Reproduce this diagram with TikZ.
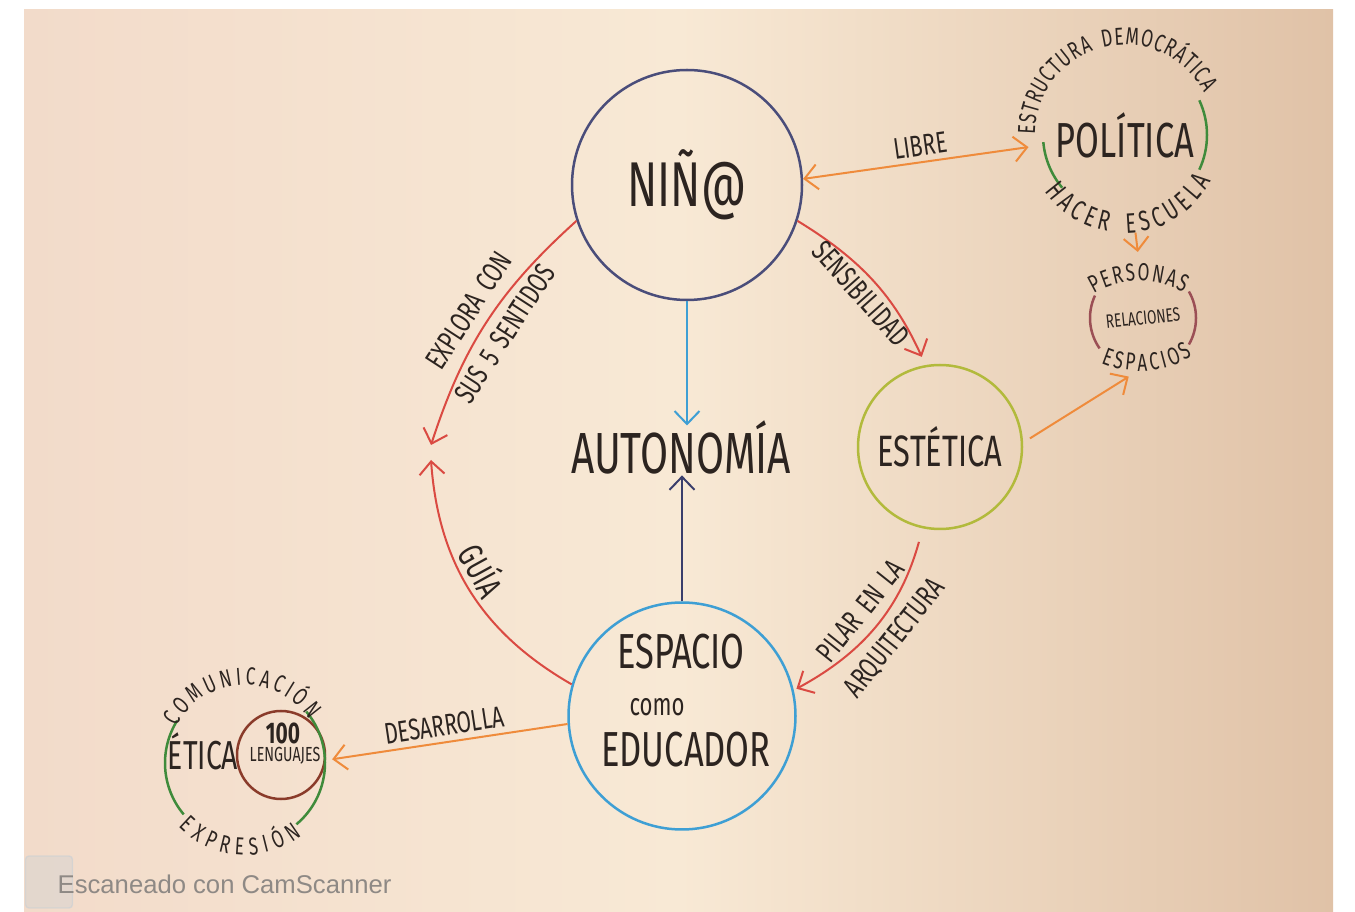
\documentclass[tikz,border=0pt]{standalone}
\usepackage{fontspec}
\setmainfont{Fira Sans}
\newfontfamily\hand[FakeStretch=0.7, WordSpace=1.7]{Fira Sans}
\newfontfamily\scanfont{Liberation Sans}
\usetikzlibrary{arrows.meta,
				calc,
				positioning,
				decorations.text}

\definecolor{paperL}{HTML}{F2DBCA}
\definecolor{paperM}{HTML}{F8E9D5}
\definecolor{paperR}{HTML}{E0C2A7}
\definecolor{ink}{HTML}{2C2420}
\definecolor{ninoC}{HTML}{4A4D7A}
\definecolor{redC}{HTML}{DA4A42}
\definecolor{orangeC}{HTML}{EF8B3B}
\definecolor{skyC}{HTML}{3E9FD4}
\definecolor{navyC}{HTML}{3A3E6C}
\definecolor{oliveC}{HTML}{B2BA3C}
\definecolor{greenC}{HTML}{3F8B3B}
\definecolor{plumC}{HTML}{9B4F55}
\definecolor{brownC}{HTML}{8A3B2A}
\definecolor{scanC}{HTML}{8E8985}
\definecolor{logoC}{HTML}{C3CED6}

\newcommand{\hsz}[1]{\hand\fontsize{#1}{#1}\selectfont}
\newcommand{\lblfont}{\hand\fontsize{8.5}{8.5}\selectfont}
\newcommand{\arcfont}{\hand\fontsize{7}{7}\selectfont\color{ink}}
\newcommand{\arcfontL}{\hand\fontsize{8}{8}\selectfont\color{ink}}

\begin{document}
\begin{tikzpicture}[x=0.1mm, y=0.1mm]
\tikzset{
	>={Straight Barb[length=1.3mm, width=2.5mm]},
	bubble/.style={circle, line width=0.25mm, inner sep=0pt, text=ink},
	link/.style={->, line width=0.2mm},
	lbl/.style={text=ink, font=\lblfont, inner sep=1.5pt},
	pair/.style={lbl, sloped, inner sep=2.8pt},
	arctext/.style={decorate, decoration={text along path, text align={fit to path}, text={|\arcfont|#1}}},
	arctextL/.style={decorate, decoration={text along path, text align={fit to path}, text={|\arcfontL|#1}}}
}

\useasboundingbox (0,0) rectangle (1355,911);
\shade[left color=paperL, right color=paperR, middle color=paperM] (24,0) rectangle (1333,901);

\node[bubble, draw=ninoC, minimum size=23mm, font=\hsz{18}] (nino) at (687,726) {NIÑ@};
\node[text=ink, font=\hsz{16.5}, inner sep=0pt, anchor=base] (autonomia) at (681,437) {AUTONOMÍA};
\node[bubble, draw=oliveC, minimum size=16.4mm, font=\hsz{12.5}] (estetica) at (940,464) {ESTÉTICA};
\node[bubble, draw=skyC, minimum size=22.7mm] (espacio) at (682,195) {};
\node[text=ink, font=\hsz{14}] (espacioA) at (681,259) {ESPACIO};
\node[text=ink, font=\hsz{9}] (como) at (657,204) {como};
\node[text=ink, font=\hsz{14}] (espacioB) at (686,161) {EDUCADOR};

\node[bubble, minimum size=16.4mm, font=\hsz{14}] (politica) at (1125,776) {POLÍTICA};
\node[bubble, minimum size=10.6mm] (personas) at (1143,593) {};
\node[text=ink, font=\hsz{5.5}, rotate=6] (relaciones) at (personas) {RELACIONES};

\node[bubble, minimum size=16mm] (etica) at (245,148) {};
\node[text=ink, font=\hsz{11.5}] (eticaT) at (203,160) {ÉTICA};
\node[bubble, draw=brownC, minimum size=8.8mm] (lenguajes) at (281,156) {};
\node[text=ink, font=\hsz{8.5}\bfseries] (cien) at (283,178) {100};
\node[text=ink, font=\hsz{5.8}] (lenguajesT) at (285,155) {LENGUAJES};

\draw[greenC, line width=0.25mm] ($(politica)+(185:82)$) arc[start angle=185, end angle=220, radius=82];
\draw[greenC, line width=0.25mm] ($(politica)+(-25:82)$) arc[start angle=-25, end angle=25, radius=82];
\draw[plumC, line width=0.25mm] ($(personas)+(155:53)$) arc[start angle=155, end angle=215, radius=53];
\draw[plumC, line width=0.25mm] ($(personas)+(-30:53)$) arc[start angle=-30, end angle=30, radius=53];
\draw[greenC, line width=0.25mm] ($(etica)+(148:80)$) arc[start angle=148, end angle=220, radius=80];
\draw[greenC, line width=0.25mm] ($(etica)+(-50:80)$) arc[start angle=-50, end angle=40, radius=80];

\path[arctext={ESTRUCTURA DEMOCRÁTICA}] ($(politica)+(180:90)$) arc[start angle=180, end angle=28, radius=90];
\path[arctextL={HACER ESCUELA}] ($(politica)+(215:98)$) arc[start angle=215, end angle=332, radius=98];
\path[arctext={PERSONAS}] ($(personas)+(-3,-53)+(121:90)$) arc[start angle=121, end angle=61, radius=90];
\path[arctext={ESPACIOS}] ($(personas)+(-3,47)+(247:100)$) arc[start angle=247, end angle=302, radius=100];
\path[arctext={COMUNICACIÓN}] ($(etica)+(152:78)$) arc[start angle=152, end angle=34, radius=78];
\path[arctext={EXPRESIÓN}] ($(etica)+(224:92)$) arc[start angle=224, end angle=308, radius=92];

\coordinate (explEnd) at (431,466);
\coordinate (guiaEnd) at (431,451);

\draw[link, redC] (nino.198) to[bend right=15] node[pair, above] {EXPLORA CON} node[pair, below] {SUS 5 SENTIDOS} (explEnd);
\draw[link, redC] (espacio.164) to[bend left=28] node[lbl, sloped, above, pos=0.55, font=\hsz{10}] {GUÍA} (guiaEnd);
\draw[link, redC, shorten >=0.9mm] (nino.-18) to[bend left=17] node[lbl, sloped, below] {SENSIBILIDAD} (estetica.100);
\draw[link, redC, shorten <=1.4mm, shorten >=0.3mm] (estetica.258) to[bend left=23] node[pair, above] {PILAR EN LA} node[pair, below] {ARQUITECTURA} (espacio.13);
\draw[link, <->, orangeC, shorten >=1.4mm] (nino.3) -- node[lbl, sloped, above] {LIBRE} (politica.187);
\draw[link, orangeC, shorten <=0.8mm, shorten >=0.9mm] (estetica.3) -- (personas.263);
\draw[link, orangeC, shorten <=1.5mm, shorten >=1.2mm] (politica.-84) -- (personas.94);
\draw[link, orangeC, shorten >=0.6mm] (espacio.184) -- node[lbl, sloped, above] {DESARROLLA} (etica.2);
\draw[link, skyC, shorten >=-0.5mm] (nino.south) -- (nino.south |- autonomia.north);
\draw[link, navyC] (espacio.north) -- (espacio.north |- autonomia.south);

\node[draw=logoC, fill=logoC, fill opacity=0.3, draw opacity=0.5, rounded corners=1pt, minimum width=4.7mm, minimum height=5.2mm] (logo) at (49,29) {};
\node[font=\scanfont\fontsize{7.3}{8}\selectfont, text=scanC, anchor=west, inner sep=0pt] (scan) at (57,27) {Escaneado con CamScanner};

\end{tikzpicture}
\end{document}
